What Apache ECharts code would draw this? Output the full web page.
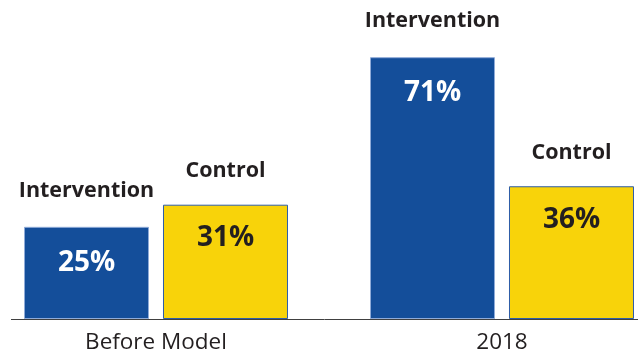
<!DOCTYPE html>
<html>
<head>
<meta charset="utf-8">
<script src="https://cdn.jsdelivr.net/npm/echarts@6/dist/echarts.min.js"></script>
<style>
  html, body { margin: 0; padding: 0; background: #fff; }
  #chart { width: 638px; height: 352px; }
</style>
</head>
<body>
<div id="chart"></div>
<script>
// 数据
const categories = ['Before Model', '2018'];
const seriesNames = ['Intervention', 'Control'];
const interventionValues = [25, 71];
const controlValues = [31, 36];

const chart = echarts.init(document.getElementById('chart'));

// 标签：系列名称在柱上方，百分比在柱内
function barLabel(pctColor, gap) {
    return {
        show: true,
        position: 'top',
        distance: 0,
        offset: [0, gap],
        formatter: '{n|{a}}\n{p|{c}%}',
        rich: {
            n: {
                color: '#231f20',
                fontFamily: 'Open Sans',
                fontWeight: 'bold',
                fontSize: 21.5,
                lineHeight: gap
            },
            p: {
                color: pctColor,
                fontFamily: 'Open Sans',
                fontWeight: 'bold',
                fontSize: 28,
                lineHeight: gap
            }
        }
    };
}

const option = {
    animation: false,
    grid: { left: -17, width: 692, top: 24, bottom: 33, outerBoundsMode: 'none', containLabel: false },
    xAxis: {
        type: 'category',
        data: categories,
        axisLine: { show: false },
        axisTick: { show: false },
        axisLabel: {
            margin: 12,
            color: '#231f20',
            fontFamily: 'Open Sans',
            fontSize: 22.5
        }
    },
    yAxis: {
        type: 'value',
        min: 0,
        max: 80,
        show: false,
        splitLine: { show: false }
    },
    graphic: [{
        type: 'line',
        shape: { x1: 11, y1: 319.5, x2: 638, y2: 319.5 },
        style: { stroke: '#404040', lineWidth: 1 }
    }],
    series: [
        {
            name: seriesNames[0],
            type: 'bar',
            data: interventionValues,
            barGap: '11.2%',
            barCategoryGap: '23.7%',
            itemStyle: { color: '#144e9a', borderColor: '#8fabd8', borderWidth: 1 },
            label: barLabel('#ffffff', 72)
        },
        {
            name: seriesNames[1],
            type: 'bar',
            data: controlValues,
            itemStyle: { color: '#f8d30a', borderColor: '#2e5da8', borderWidth: 1 },
            label: barLabel('#231f20', 67)
        }
    ]
};

chart.setOption(option);
</script>
</body>
</html>
